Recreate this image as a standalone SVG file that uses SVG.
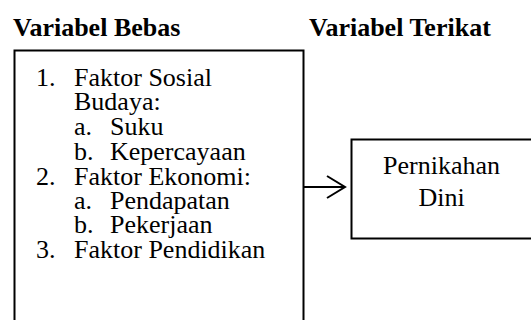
<svg xmlns="http://www.w3.org/2000/svg" width="531" height="320" viewBox="0 0 531 320">
<style>
.box{fill:#fff;stroke:#000;stroke-width:2}
.c{fill:none;stroke:#000;stroke-width:2}
</style>
<rect width="531" height="320" fill="#fff"/>
<g font-family="Liberation Serif" font-size="26" fill="#000">
<text font-weight="bold" x="13" y="36">Variabel Bebas</text>
<text font-weight="bold" x="309" y="36">Variabel Terikat</text>
<g id="bebas">
<rect class="box" x="14.5" y="50.5" width="289" height="290"/>
<text x="36" y="86">1.</text><text x="74" y="86">Faktor Sosial</text>
<text x="74" y="110">Budaya:</text>
<text x="74" y="135">a.</text><text x="110" y="135">Suku</text>
<text x="74" y="160">b.</text><text x="110" y="160">Kepercayaan</text>
<text x="36" y="185">2.</text><text x="74" y="185">Faktor Ekonomi:</text>
<text x="74" y="209">a.</text><text x="110" y="209">Pendapatan</text>
<text x="74" y="233">b.</text><text x="110" y="233">Pekerjaan</text>
<text x="36" y="258">3.</text><text x="74" y="258">Faktor Pendidikan</text>
</g>
<g id="terikat">
<rect class="box" x="351.5" y="139.5" width="190" height="99"/>
<text x="441.5" y="174" text-anchor="middle">Pernikahan</text>
<text x="441.5" y="206" text-anchor="middle">Dini</text>
</g>
</g>
<g id="connectors">
<path class="c" d="M304 187H345M327 176L345 187L327 198"/>
</g>
</svg>
